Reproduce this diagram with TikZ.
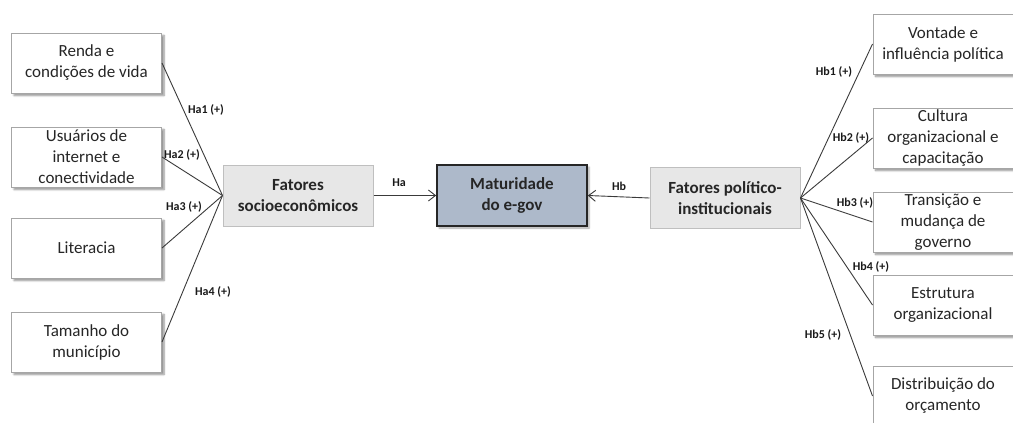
\documentclass[tikz,border=0pt]{standalone}
\usepackage{fontspec}
\setmainfont{Carlito}
\usetikzlibrary{arrows.meta,shadows.blur}
\definecolor{boxline}{HTML}{A6A6A6}
\definecolor{factorfill}{HTML}{E7E7E7}
\definecolor{factorline}{HTML}{BFBFBF}
\definecolor{corefill}{HTML}{ADB9CA}
\definecolor{wire}{HTML}{3A3A3A}
\tikzset{
  itembox/.style={draw=boxline, line width=1pt, fill=white, minimum width=150pt,
    minimum height=60pt, align=center, font=\fontsize{17}{21}\selectfont,
    text=black!85, inner sep=1pt,
    blur shadow={shadow xshift=2.5pt, shadow yshift=-2.5pt, shadow blur steps=6, shadow opacity=45}},
  ritembox/.style={itembox, minimum width=140pt},
  factorbox/.style={draw=factorline, line width=1pt, fill=factorfill, minimum width=150pt,
    minimum height=61pt, align=center, font=\bfseries\fontsize{17}{21}\selectfont,
    text=black!85, inner sep=1pt},
  corebox/.style={draw=black!85, line width=1.7pt, fill=corefill, minimum width=150pt,
    minimum height=61pt, align=center, font=\bfseries\fontsize{17}{21}\selectfont,
    text=black!85, inner sep=1pt,
    blur shadow={shadow xshift=2pt, shadow yshift=-2pt, shadow blur steps=5, shadow opacity=35}},
  link/.style={draw=wire, line width=0.9pt},
  arrowlink/.style={link, -{Straight Barb[length=7pt,width=11pt,line width=0.9pt]}},
  hyp/.style={font=\bfseries\fontsize{12}{14}\selectfont, inner sep=1pt, text=black!90}
}
\begin{document}
\begin{tikzpicture}[x=1pt,y=-1pt]
\useasboundingbox (0,0) rectangle (1013,423);
\clip (0,0) rectangle (1013,423);

% socio-economic side
\node[itembox] (renda) at (86.5,63) {Renda e\\condições de vida};
\node[itembox] (usuarios) at (86.5,157) {Usuários de\\internet e\\conectividade};
\node[itembox] (literacia) at (86.5,248) {Literacia};
\node[itembox] (tamanho) at (86.5,342) {Tamanho do\\município};
\node[factorbox] (socio) at (298,195.5) {Fatores\\socioeconômicos};

% outcome
\node[corebox] (egov) at (512,195.5) {Maturidade\\do e-gov};

% political-institutional side
\node[factorbox] (polit) at (725,198) {Fatores político-\\institucionais};
\node[ritembox] (vontade) at (943,44) {Vontade e\\influência política};
\node[ritembox] (cultura) at (943,138) {Cultura\\organizacional e\\capacitação};
\node[ritembox] (transicao) at (943,222) {Transição e\\mudança de\\governo};
\node[ritembox] (estrutura) at (943,305) {Estrutura\\organizacional};
\node[ritembox] (orcamento) at (943,396) {Distribuição do\\orçamento};

% connectors
\foreach \src in {renda,usuarios,literacia,tamanho}
  \draw[link] (\src.east) -- (socio.west);
\foreach \dst in {vontade,cultura,transicao,estrutura,orcamento}
  \draw[link] (polit.east) -- (\dst.west);
\draw[arrowlink] (socio.east) -- (egov.west);
\draw[arrowlink] (polit.west) -- (egov.east);

% hypothesis labels
\node[hyp] (ha1) at (206,110) {Ha1 (+)};
\node[hyp] (ha2) at (182,155) {Ha2 (+)};
\node[hyp] (ha3) at (184,207) {Ha3 (+)};
\node[hyp] (ha4) at (213,292) {Ha4 (+)};
\node[hyp] (ha) at (399,183) {Ha};
\node[hyp] (hb) at (619,186) {Hb};
\node[hyp] (hb1) at (834,72) {Hb1 (+)};
\node[hyp] (hb2) at (851,138) {Hb2 (+)};
\node[hyp] (hb3) at (855,203) {Hb3 (+)};
\node[hyp] (hb4) at (871,267) {Hb4 (+)};
\node[hyp] (hb5) at (823,335) {Hb5 (+)};
\end{tikzpicture}
\end{document}
